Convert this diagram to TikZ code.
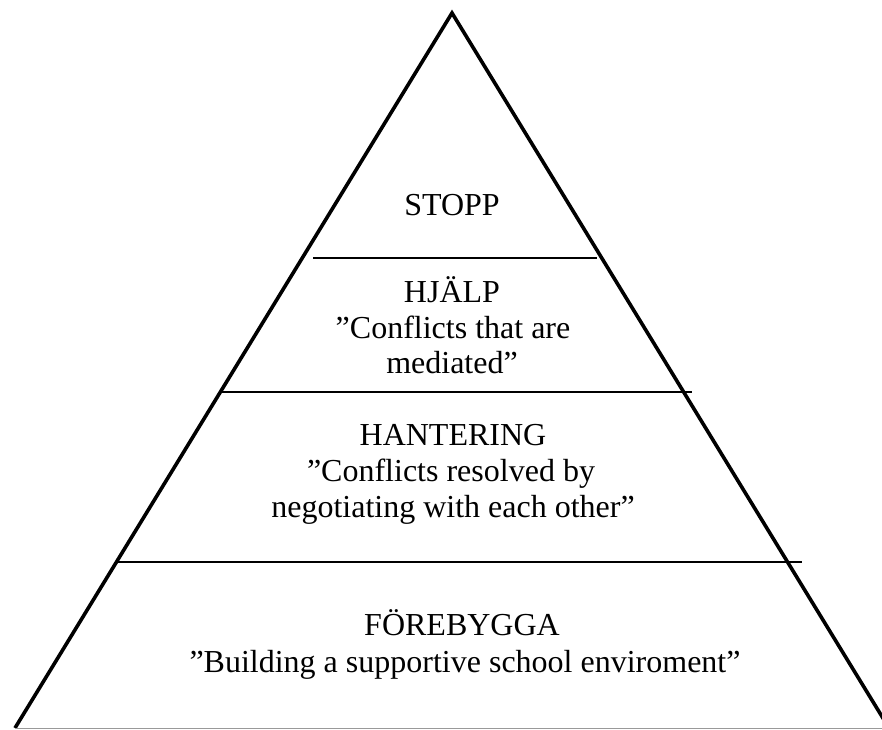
\documentclass[tikz,border=0pt]{standalone}
\usepackage{fontspec}
\setmainfont{Liberation Serif}
\tikzset{
  outline/.style={line width=3.6pt, line join=miter, black},
  divider/.style={line width=1.8pt, black},
  baseline line/.style={line width=1pt, black!40},
  lbl/.style={anchor=base, inner sep=0pt, font=\fontsize{32}{36}\selectfont}
}
\begin{document}
\begin{tikzpicture}[x=1pt,y=-1pt]
\useasboundingbox (0,0) rectangle (882,729);
\clip (0,0) rectangle (882,729);
% triangle
\coordinate (apex) at (452,13);
\coordinate (bl) at (15,728);
\coordinate (br) at (889,728);
\draw[outline] (bl) -- (apex) -- (br);
\coordinate (g1) at (15,728.5);
\coordinate (g2) at (882,728.5);
\draw[baseline line] (g1) -- (g2);
% dividers
\coordinate (d1l) at (313,258); \coordinate (d1r) at (597,258);
\coordinate (d2l) at (222,392); \coordinate (d2r) at (692,392);
\coordinate (d3l) at (118,562); \coordinate (d3r) at (802,562);
\draw[divider] (d1l) -- (d1r);
\draw[divider] (d2l) -- (d2r);
\draw[divider] (d3l) -- (d3r);
% labels
\node[lbl] (stopp) at (452,215) {STOPP};
\node[lbl] (hjalp) at (452,302) {HJÄLP};
\node[lbl] (hjalp2) at (453,338) {”Conflicts that are};
\node[lbl] (hjalp3) at (452,373) {mediated”};
\node[lbl] (hant) at (453,445) {HANTERING};
\node[lbl] (hant2) at (451,481) {”Conflicts resolved by};
\node[lbl] (hant3) at (453,517) {negotiating with each other”};
\node[lbl] (fore) at (462,635) {FÖREBYGGA};
\node[lbl] (fore2) at (465,672) {”Building a supportive school enviroment”};
\end{tikzpicture}
\end{document}
